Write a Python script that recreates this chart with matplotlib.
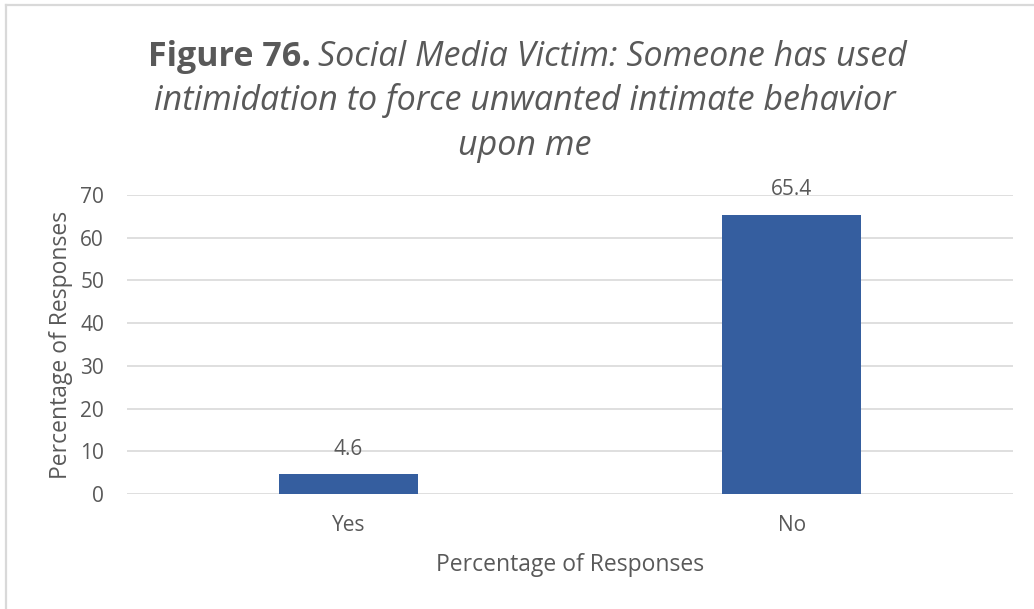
import matplotlib
matplotlib.use('Agg')
import matplotlib.pyplot as plt
from matplotlib.lines import Line2D

categories = ['Yes', 'No']
values = [4.6, 65.4]
yticks = [0, 10, 20, 30, 40, 50, 60, 70]

text_color = '#595959'
bar_color = '#355E9F'
border_color = '#d9d9d9'

plt.rcParams['font.family'] = ['Open Sans', 'DejaVu Sans']

fig = plt.figure(figsize=(10.34, 6.09), dpi=100)
ax = fig.add_axes([0.1228, 0.1888, 0.857, 0.491])

x = range(len(categories))
bars = ax.bar(x, values, width=0.315, color=bar_color, zorder=3)
for b, v in zip(bars, values):
    ax.text(b.get_x() + b.get_width() / 2, v + 5.9, f'{v}', ha='center', va='center',
            fontsize=15, color=text_color)

ax.set_xlim(-0.5, 1.5)
ax.set_ylim(0, 70)
ax.set_yticks(yticks)
ax.set_xticks(list(x))
ax.set_xticklabels(categories)
ax.grid(axis='y', color=border_color, linewidth=1.2, zorder=0)
for s in ax.spines.values():
    s.set_visible(False)
ax.tick_params(axis='both', length=0, labelsize=15, colors=text_color)
ax.tick_params(axis='y', pad=16.5)
ax.tick_params(axis='x', pad=15)

ax.set_xlabel('Percentage of Responses', fontsize=16.5, color=text_color, labelpad=12)
ax.set_ylabel('Percentage of Responses', fontsize=16.5, color=text_color, labelpad=5)

# title: bold lead-in followed by italic text
line1_y = 1 - 57 / 609
line2_y = 1 - 101 / 609
line3_y = 1 - 146 / 609
title_cx = 525 / 1034
t1 = fig.text(148 / 1034, line1_y, 'Figure 76.', fontsize=24.5, fontweight='bold',
              color=text_color, ha='left', va='center')
fig.canvas.draw()
x_end = t1.get_window_extent().x1 / fig.bbox.width
fig.text(x_end + 0.007, line1_y, 'Social Media Victim: Someone has used', fontsize=24.5,
         style='italic', color=text_color, ha='left', va='center')
fig.text(title_cx, line2_y, 'intimidation to force unwanted intimate behavior', fontsize=24.5,
         style='italic', color=text_color, ha='center', va='center')
fig.text(title_cx, line3_y, 'upon me', fontsize=24.5,
         style='italic', color=text_color, ha='center', va='center')

# chart frame, only left and top edges are visible in the crop
fig.lines.append(Line2D([5.5 / 1034, 5.5 / 1034], [0, 1 - 5 / 609], transform=fig.transFigure,
                        color=border_color, linewidth=1.6))
fig.lines.append(Line2D([5.5 / 1034, 1], [1 - 5 / 609, 1 - 5 / 609], transform=fig.transFigure,
                        color=border_color, linewidth=1.6))

fig.savefig('out.png', dpi=100)
